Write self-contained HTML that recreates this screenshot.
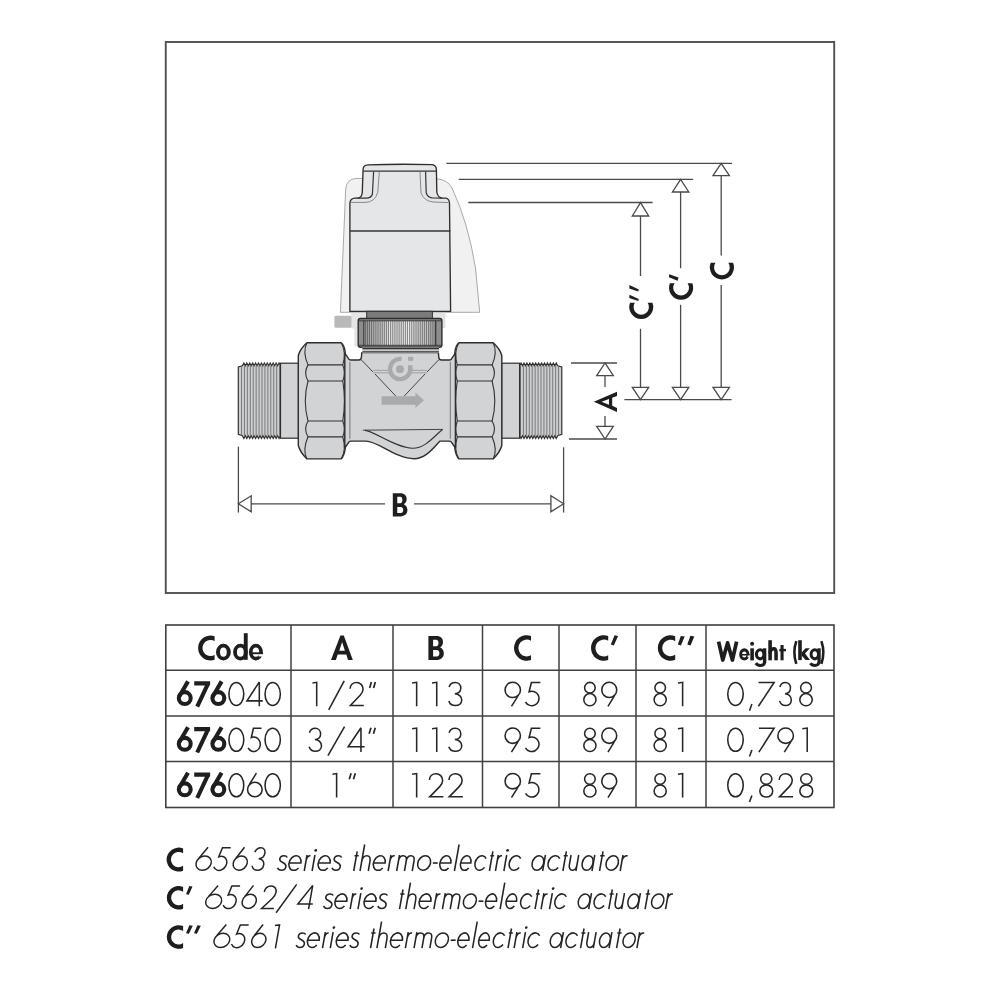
<!DOCTYPE html>
<html><head><meta charset="utf-8"><style>
html,body{margin:0;padding:0;background:#fff;}
svg{display:block;}
text{font-family:"Liberation Sans",sans-serif;}
.ve *{vector-effect:non-scaling-stroke;}
body{position:relative;width:1000px;height:1000px;overflow:hidden;}
.txt{position:absolute;left:0;top:0;width:1000px;height:1000px;color:transparent;font-family:"Liberation Sans",sans-serif;font-size:24px;pointer-events:none;}
.txt span,.txt table,.txt p{position:absolute;margin:0;}
.txt table{border-collapse:collapse;width:668px;height:182px;}
.txt th,.txt td{padding:0;text-align:center;font-weight:normal;}
</style></head><body>
<svg width="1000" height="1000" viewBox="0 0 1000 1000">
<rect width="1000" height="1000" fill="#fff"/>
<g>
<rect x="165.75" y="42" width="668.45" height="551" fill="none" stroke="#505050" stroke-width="1.9"/>
<path d="M340.4,312.3 L344.6,215 L345.7,189 Q346.5,179 356,178.4 L437,178.8 Q448,180 452,188 Q468,222 475.5,268 L479.7,312.3 Z" fill="#f1f1f1" stroke="#a9a9a9" stroke-width="1"/>
<path d="M351,312.8 H367 V328.4 H357.8 V346.4 H354.2 V328.4 H351 Z" fill="#e6e6e6"/>
<rect x="432" y="312.7" width="13.4" height="15.3" fill="#e2e2e2"/>
<rect x="334.4" y="315.8" width="17" height="12" rx="1.5" fill="#b9b9b9"/>
<path d="M349.9,311.3 L349.9,203 Q350.3,198.4 355,198.2 L359,198 Q362.2,196.5 362.3,192 L363.1,169 Q363.5,165 368,164.8 Q400,163.8 432,164.6 Q436.2,165.2 436.4,169.5 L436.8,192 Q437.5,197 441.5,198 L446,198.2 Q449.4,199 449.5,203.5 L450.6,311.3 Z" fill="#e5e6e8" stroke="#2e2e2e" stroke-width="1.35"/>
<line x1="363.2" y1="171.1" x2="436.4" y2="171.1" stroke="#333" stroke-width="1.3"/>
<line x1="349.9" y1="231.1" x2="450.3" y2="231.1" stroke="#333" stroke-width="1.5"/>
<path d="M373.6,171.8 L372.4,194 Q371.5,198.1 366,198.1 L358,198.1" fill="none" stroke="#333" stroke-width="1.2"/>
<path d="M379.3,171.8 L377.8,192.2 Q375,202.4 365,202.4 L351,202.4" fill="none" stroke="#888" stroke-width="1"/>
<path d="M425.6,171.8 L426.2,193 Q428,198 433,198 L442,198.1" fill="none" stroke="#333" stroke-width="1.2"/>
<path d="M420,171.8 L421,193 Q424,201 433,202 L448.6,202.6" fill="none" stroke="#888" stroke-width="1"/>
<rect x="366.7" y="311.3" width="65.7" height="7.2" fill="#7b7b7b" stroke="#333" stroke-width="1"/>
<rect x="358.2" y="318.5" width="83.7" height="28.8" rx="2.2" fill="#8d8d8d" stroke="#2e2e2e" stroke-width="1.4"/>
<rect x="364.30" y="321" width="1.0" height="24.4" fill="rgb(150,150,150)"/><rect x="365.30" y="321" width="0.9" height="24.4" fill="rgb(95,95,95)"/><rect x="366.20" y="321" width="1.0" height="24.4" fill="rgb(157,157,157)"/><rect x="367.20" y="321" width="0.9" height="24.4" fill="rgb(98,98,98)"/><rect x="368.10" y="321" width="1.0" height="24.4" fill="rgb(164,164,164)"/><rect x="369.10" y="321" width="0.9" height="24.4" fill="rgb(101,101,101)"/><rect x="370.00" y="321" width="1.0" height="24.4" fill="rgb(171,171,171)"/><rect x="371.00" y="321" width="0.9" height="24.4" fill="rgb(104,104,104)"/><rect x="371.90" y="321" width="1.0" height="24.4" fill="rgb(178,178,178)"/><rect x="372.90" y="321" width="0.9" height="24.4" fill="rgb(107,107,107)"/><rect x="373.80" y="321" width="1.0" height="24.4" fill="rgb(184,184,184)"/><rect x="374.80" y="321" width="0.9" height="24.4" fill="rgb(110,110,110)"/><rect x="375.70" y="321" width="1.0" height="24.4" fill="rgb(191,191,191)"/><rect x="376.70" y="321" width="0.9" height="24.4" fill="rgb(113,113,113)"/><rect x="377.60" y="321" width="1.0" height="24.4" fill="rgb(197,197,197)"/><rect x="378.60" y="321" width="0.9" height="24.4" fill="rgb(116,116,116)"/><rect x="379.50" y="321" width="1.0" height="24.4" fill="rgb(203,203,203)"/><rect x="380.50" y="321" width="0.9" height="24.4" fill="rgb(118,118,118)"/><rect x="381.40" y="321" width="1.0" height="24.4" fill="rgb(208,208,208)"/><rect x="382.40" y="321" width="0.9" height="24.4" fill="rgb(121,121,121)"/><rect x="383.30" y="321" width="1.0" height="24.4" fill="rgb(214,214,214)"/><rect x="384.30" y="321" width="0.9" height="24.4" fill="rgb(123,123,123)"/><rect x="385.20" y="321" width="1.0" height="24.4" fill="rgb(218,218,218)"/><rect x="386.20" y="321" width="0.9" height="24.4" fill="rgb(125,125,125)"/><rect x="387.10" y="321" width="1.0" height="24.4" fill="rgb(223,223,223)"/><rect x="388.10" y="321" width="0.9" height="24.4" fill="rgb(127,127,127)"/><rect x="389.00" y="321" width="1.0" height="24.4" fill="rgb(227,227,227)"/><rect x="390.00" y="321" width="0.9" height="24.4" fill="rgb(129,129,129)"/><rect x="390.90" y="321" width="1.0" height="24.4" fill="rgb(230,230,230)"/><rect x="391.90" y="321" width="0.9" height="24.4" fill="rgb(130,130,130)"/><rect x="392.80" y="321" width="1.0" height="24.4" fill="rgb(233,233,233)"/><rect x="393.80" y="321" width="0.9" height="24.4" fill="rgb(132,132,132)"/><rect x="394.70" y="321" width="1.0" height="24.4" fill="rgb(235,235,235)"/><rect x="395.70" y="321" width="0.9" height="24.4" fill="rgb(133,133,133)"/><rect x="396.60" y="321" width="1.0" height="24.4" fill="rgb(237,237,237)"/><rect x="397.60" y="321" width="0.9" height="24.4" fill="rgb(133,133,133)"/><rect x="398.50" y="321" width="1.0" height="24.4" fill="rgb(239,239,239)"/><rect x="399.50" y="321" width="0.9" height="24.4" fill="rgb(134,134,134)"/><rect x="400.40" y="321" width="1.0" height="24.4" fill="rgb(239,239,239)"/><rect x="401.40" y="321" width="0.9" height="24.4" fill="rgb(134,134,134)"/><rect x="402.30" y="321" width="1.0" height="24.4" fill="rgb(239,239,239)"/><rect x="403.30" y="321" width="0.9" height="24.4" fill="rgb(134,134,134)"/><rect x="404.20" y="321" width="1.0" height="24.4" fill="rgb(239,239,239)"/><rect x="405.20" y="321" width="0.9" height="24.4" fill="rgb(134,134,134)"/><rect x="406.10" y="321" width="1.0" height="24.4" fill="rgb(238,238,238)"/><rect x="407.10" y="321" width="0.9" height="24.4" fill="rgb(134,134,134)"/><rect x="408.00" y="321" width="1.0" height="24.4" fill="rgb(237,237,237)"/><rect x="409.00" y="321" width="0.9" height="24.4" fill="rgb(133,133,133)"/><rect x="409.90" y="321" width="1.0" height="24.4" fill="rgb(235,235,235)"/><rect x="410.90" y="321" width="0.9" height="24.4" fill="rgb(132,132,132)"/><rect x="411.80" y="321" width="1.0" height="24.4" fill="rgb(232,232,232)"/><rect x="412.80" y="321" width="0.9" height="24.4" fill="rgb(131,131,131)"/><rect x="413.70" y="321" width="1.0" height="24.4" fill="rgb(229,229,229)"/><rect x="414.70" y="321" width="0.9" height="24.4" fill="rgb(130,130,130)"/><rect x="415.60" y="321" width="1.0" height="24.4" fill="rgb(225,225,225)"/><rect x="416.60" y="321" width="0.9" height="24.4" fill="rgb(128,128,128)"/><rect x="417.50" y="321" width="1.0" height="24.4" fill="rgb(221,221,221)"/><rect x="418.50" y="321" width="0.9" height="24.4" fill="rgb(126,126,126)"/><rect x="419.40" y="321" width="1.0" height="24.4" fill="rgb(217,217,217)"/><rect x="420.40" y="321" width="0.9" height="24.4" fill="rgb(124,124,124)"/><rect x="421.30" y="321" width="1.0" height="24.4" fill="rgb(212,212,212)"/><rect x="422.30" y="321" width="0.9" height="24.4" fill="rgb(122,122,122)"/><rect x="423.20" y="321" width="1.0" height="24.4" fill="rgb(207,207,207)"/><rect x="424.20" y="321" width="0.9" height="24.4" fill="rgb(120,120,120)"/><rect x="425.10" y="321" width="1.0" height="24.4" fill="rgb(201,201,201)"/><rect x="426.10" y="321" width="0.9" height="24.4" fill="rgb(117,117,117)"/><rect x="427.00" y="321" width="1.0" height="24.4" fill="rgb(195,195,195)"/><rect x="428.00" y="321" width="0.9" height="24.4" fill="rgb(115,115,115)"/><rect x="428.90" y="321" width="1.0" height="24.4" fill="rgb(189,189,189)"/><rect x="429.90" y="321" width="0.9" height="24.4" fill="rgb(112,112,112)"/><rect x="430.80" y="321" width="1.0" height="24.4" fill="rgb(182,182,182)"/><rect x="431.80" y="321" width="0.9" height="24.4" fill="rgb(109,109,109)"/><rect x="432.70" y="321" width="1.0" height="24.4" fill="rgb(175,175,175)"/><rect x="433.70" y="321" width="0.9" height="24.4" fill="rgb(106,106,106)"/><rect x="434.60" y="321" width="1.0" height="24.4" fill="rgb(168,168,168)"/><rect x="435.60" y="321" width="0.9" height="24.4" fill="rgb(103,103,103)"/>
<line x1="363.8" y1="320.5" x2="363.8" y2="345.5" stroke="#333" stroke-width="1"/>
<line x1="435.6" y1="320.5" x2="435.6" y2="345.5" stroke="#333" stroke-width="1"/>
<line x1="359" y1="320.8" x2="441" y2="320.8" stroke="#333" stroke-width="0.9"/>
<line x1="359" y1="345.3" x2="441" y2="345.3" stroke="#333" stroke-width="0.9"/>
<polygon points="280.50,365.70 280.50,365.70 279.04,363.00 277.57,365.70 276.11,363.00 274.64,365.70 273.18,363.00 271.71,365.70 270.25,363.00 268.78,365.70 267.31,363.00 265.85,365.70 264.38,363.00 262.92,365.70 261.45,363.00 259.99,365.70 258.52,363.00 257.06,365.70 255.59,363.00 254.13,365.70 252.66,363.00 251.20,365.70 249.74,363.00 248.27,365.70 246.81,363.00 245.34,365.70 243.88,363.00 242.41,365.70 238.30,367.00 238.30,434.40 242.41,435.70 243.88,438.40 245.34,435.70 246.81,438.40 248.27,435.70 249.74,438.40 251.20,435.70 252.66,438.40 254.13,435.70 255.59,438.40 257.06,435.70 258.52,438.40 259.99,435.70 261.45,438.40 262.92,435.70 264.38,438.40 265.85,435.70 267.31,438.40 268.78,435.70 270.25,438.40 271.71,435.70 273.18,438.40 274.64,435.70 276.11,438.40 277.57,435.70 279.04,438.40 280.50,435.70 280.50,435.70" fill="#cdced0" stroke="#333" stroke-width="1.2" stroke-linejoin="miter"/><line x1="279.60" y1="365.7" x2="279.60" y2="435.7" stroke="#6a6a6a" stroke-width="0.85"/><line x1="276.67" y1="365.7" x2="276.67" y2="435.7" stroke="#6a6a6a" stroke-width="0.85"/><line x1="273.74" y1="365.7" x2="273.74" y2="435.7" stroke="#6a6a6a" stroke-width="0.85"/><line x1="270.81" y1="365.7" x2="270.81" y2="435.7" stroke="#6a6a6a" stroke-width="0.85"/><line x1="267.88" y1="365.7" x2="267.88" y2="435.7" stroke="#6a6a6a" stroke-width="0.85"/><line x1="264.95" y1="365.7" x2="264.95" y2="435.7" stroke="#6a6a6a" stroke-width="0.85"/><line x1="262.02" y1="365.7" x2="262.02" y2="435.7" stroke="#6a6a6a" stroke-width="0.85"/><line x1="259.09" y1="365.7" x2="259.09" y2="435.7" stroke="#6a6a6a" stroke-width="0.85"/><line x1="256.16" y1="365.7" x2="256.16" y2="435.7" stroke="#6a6a6a" stroke-width="0.85"/><line x1="253.23" y1="365.7" x2="253.23" y2="435.7" stroke="#6a6a6a" stroke-width="0.85"/><line x1="250.30" y1="365.7" x2="250.30" y2="435.7" stroke="#6a6a6a" stroke-width="0.85"/><line x1="247.37" y1="365.7" x2="247.37" y2="435.7" stroke="#6a6a6a" stroke-width="0.85"/><line x1="244.44" y1="365.7" x2="244.44" y2="435.7" stroke="#6a6a6a" stroke-width="0.85"/><line x1="241.51" y1="365.7" x2="241.51" y2="435.7" stroke="#6a6a6a" stroke-width="0.85"/><rect x="280.5" y="363.2" width="18" height="75" fill="#d2d3d5" stroke="#2e2e2e" stroke-width="1.2"/><path d="M306.9,342.8 L341.2,342.8 Q344.2,345 345.2,352 L345.2,449 Q344.2,456 341.2,458.9 L306.9,458.9 Q300,452 298.3,445.5 L298.3,355.5 Q300,349 306.9,342.8 Z" fill="#d2d3d5" stroke="#2e2e2e" stroke-width="1.4"/><line x1="308" y1="364.9" x2="343" y2="364.9" stroke="#333" stroke-width="1.2"/><line x1="308" y1="381" x2="343" y2="381" stroke="#333" stroke-width="1.2"/><line x1="308" y1="421" x2="343" y2="421" stroke="#333" stroke-width="1.2"/><line x1="308" y1="436.8" x2="343" y2="436.8" stroke="#333" stroke-width="1.2"/><path d="M306.9,342.8 Q302.3,352 308,364.9 Q303.3,373 308,381 Q302.6,401 308,421 Q303.3,429 308,436.8 Q302.3,450 306.9,458.9" fill="none" stroke="#333" stroke-width="1.1"/><path d="M341.2,342.8 Q346.6,352 342.8,364.9 Q345.8,373 342.8,381 Q346,401 342.8,421 Q345.8,429 342.8,436.8 Q346.6,450 341.2,458.9" fill="none" stroke="#333" stroke-width="1.1"/>
<g transform="translate(800.1,0) scale(-1,1)"><polygon points="280.50,365.70 280.50,365.70 279.04,363.00 277.57,365.70 276.11,363.00 274.64,365.70 273.18,363.00 271.71,365.70 270.25,363.00 268.78,365.70 267.31,363.00 265.85,365.70 264.38,363.00 262.92,365.70 261.45,363.00 259.99,365.70 258.52,363.00 257.06,365.70 255.59,363.00 254.13,365.70 252.66,363.00 251.20,365.70 249.74,363.00 248.27,365.70 246.81,363.00 245.34,365.70 243.88,363.00 242.41,365.70 238.30,367.00 238.30,434.40 242.41,435.70 243.88,438.40 245.34,435.70 246.81,438.40 248.27,435.70 249.74,438.40 251.20,435.70 252.66,438.40 254.13,435.70 255.59,438.40 257.06,435.70 258.52,438.40 259.99,435.70 261.45,438.40 262.92,435.70 264.38,438.40 265.85,435.70 267.31,438.40 268.78,435.70 270.25,438.40 271.71,435.70 273.18,438.40 274.64,435.70 276.11,438.40 277.57,435.70 279.04,438.40 280.50,435.70 280.50,435.70" fill="#cdced0" stroke="#333" stroke-width="1.2" stroke-linejoin="miter"/><line x1="279.60" y1="365.7" x2="279.60" y2="435.7" stroke="#6a6a6a" stroke-width="0.85"/><line x1="276.67" y1="365.7" x2="276.67" y2="435.7" stroke="#6a6a6a" stroke-width="0.85"/><line x1="273.74" y1="365.7" x2="273.74" y2="435.7" stroke="#6a6a6a" stroke-width="0.85"/><line x1="270.81" y1="365.7" x2="270.81" y2="435.7" stroke="#6a6a6a" stroke-width="0.85"/><line x1="267.88" y1="365.7" x2="267.88" y2="435.7" stroke="#6a6a6a" stroke-width="0.85"/><line x1="264.95" y1="365.7" x2="264.95" y2="435.7" stroke="#6a6a6a" stroke-width="0.85"/><line x1="262.02" y1="365.7" x2="262.02" y2="435.7" stroke="#6a6a6a" stroke-width="0.85"/><line x1="259.09" y1="365.7" x2="259.09" y2="435.7" stroke="#6a6a6a" stroke-width="0.85"/><line x1="256.16" y1="365.7" x2="256.16" y2="435.7" stroke="#6a6a6a" stroke-width="0.85"/><line x1="253.23" y1="365.7" x2="253.23" y2="435.7" stroke="#6a6a6a" stroke-width="0.85"/><line x1="250.30" y1="365.7" x2="250.30" y2="435.7" stroke="#6a6a6a" stroke-width="0.85"/><line x1="247.37" y1="365.7" x2="247.37" y2="435.7" stroke="#6a6a6a" stroke-width="0.85"/><line x1="244.44" y1="365.7" x2="244.44" y2="435.7" stroke="#6a6a6a" stroke-width="0.85"/><line x1="241.51" y1="365.7" x2="241.51" y2="435.7" stroke="#6a6a6a" stroke-width="0.85"/><rect x="280.5" y="363.2" width="18" height="75" fill="#d2d3d5" stroke="#2e2e2e" stroke-width="1.2"/><path d="M306.9,342.8 L341.2,342.8 Q344.2,345 345.2,352 L345.2,449 Q344.2,456 341.2,458.9 L306.9,458.9 Q300,452 298.3,445.5 L298.3,355.5 Q300,349 306.9,342.8 Z" fill="#d2d3d5" stroke="#2e2e2e" stroke-width="1.4"/><line x1="308" y1="364.9" x2="343" y2="364.9" stroke="#333" stroke-width="1.2"/><line x1="308" y1="381" x2="343" y2="381" stroke="#333" stroke-width="1.2"/><line x1="308" y1="421" x2="343" y2="421" stroke="#333" stroke-width="1.2"/><line x1="308" y1="436.8" x2="343" y2="436.8" stroke="#333" stroke-width="1.2"/><path d="M306.9,342.8 Q302.3,352 308,364.9 Q303.3,373 308,381 Q302.6,401 308,421 Q303.3,429 308,436.8 Q302.3,450 306.9,458.9" fill="none" stroke="#333" stroke-width="1.1"/><path d="M341.2,342.8 Q346.6,352 342.8,364.9 Q345.8,373 342.8,381 Q346,401 342.8,421 Q345.8,429 342.8,436.8 Q346.6,450 341.2,458.9" fill="none" stroke="#333" stroke-width="1.1"/></g>
<path d="M344.8,353.2 L348.9,359.2 Q349.6,360 351,360 L358.8,360 Q361.2,360 361.4,357.4 L361.8,352.6 L438.4,352.6 L438.8,357.4 Q439,360 441.4,360 L449.2,360 Q450.6,360 451.3,359.2 L455.4,353.2 L455.4,448 L451.2,441.9 Q450.6,441.1 449.2,441.1 L440.1,441.1 C434,447 426,458.7 414.1,458.7 C396,458.7 378,441.1 366,441.1 L351,441.1 Q349.6,441.1 349,441.9 L344.8,448 Z" fill="#d2d3d5" stroke="#2e2e2e" stroke-width="1.4" stroke-linejoin="round"/>
<line x1="349.9" y1="362" x2="349.9" y2="438.8" stroke="#6a6a6a" stroke-width="0.9"/>
<line x1="450.3" y1="362" x2="450.3" y2="438.8" stroke="#6a6a6a" stroke-width="0.9"/>
<rect x="362.2" y="347.5" width="77" height="5.2" fill="#c9cacc"/>
<line x1="362.5" y1="348.6" x2="439" y2="348.6" stroke="#333" stroke-width="1.1"/>
<line x1="362.5" y1="351.8" x2="439" y2="351.8" stroke="#333" stroke-width="1.1"/>
<path d="M362.8,430.2 L442.7,429.4" fill="none" stroke="#444" stroke-width="1"/>
<path d="M365,430.4 C374,431 396,448.3 412.8,448.3 C426,448.3 436,434 442.7,429.5" fill="none" stroke="#333" stroke-width="1.1"/>
<path d="M361.5,360 L373,372 M375,374 L396,396.3 M438.5,360 L427,372 M425,374 L404,396.3" fill="none" stroke="#444" stroke-width="1"/>
<line x1="373.5" y1="370.4" x2="389" y2="370.4" stroke="#a9aaac" stroke-width="1.3"/>
<line x1="373.5" y1="372.8" x2="389" y2="372.8" stroke="#a9aaac" stroke-width="1.3"/>
<line x1="411" y1="370.4" x2="427" y2="370.4" stroke="#a9aaac" stroke-width="1.3"/>
<line x1="411" y1="372.8" x2="427" y2="372.8" stroke="#a9aaac" stroke-width="1.3"/>
<path d="M401.91,356.82 A12.3,12.3 0 1 0 412.38,367.29 L408.12,367.89 A8,8 0 1 1 401.31,361.08 Z" fill="#a9aaac"/>
<circle cx="400" cy="369.2" r="3.9" fill="#a9aaac"/>
<rect x="408" y="356.8" width="5.2" height="4" fill="#a9aaac"/>
<rect x="408" y="365.2" width="4.4" height="6" fill="#a9aaac"/>
<path d="M381.6,396.3 L415.4,396.3 L415.4,392.4 L423.9,400.3 L415.4,408 L415.4,404.7 L381.6,404.7 Z" fill="#a9aaac"/>
<line x1="446.4" y1="163.4" x2="732" y2="163.4" stroke="#4a4a4a" stroke-width="1.3"/>
<line x1="458.7" y1="179.4" x2="693.2" y2="179.4" stroke="#4a4a4a" stroke-width="1.3"/>
<line x1="468.3" y1="202.5" x2="652.6" y2="202.5" stroke="#4a4a4a" stroke-width="1.3"/>
<line x1="624.4" y1="399.6" x2="731.6" y2="399.6" stroke="#4a4a4a" stroke-width="1.3"/>
<line x1="721.2" y1="175.6" x2="721.2" y2="255.6" stroke="#4a4a4a" stroke-width="1.3"/>
<line x1="721.2" y1="285" x2="721.2" y2="387.4" stroke="#4a4a4a" stroke-width="1.3"/>
<line x1="680.6" y1="192" x2="680.6" y2="268.2" stroke="#4a4a4a" stroke-width="1.3"/>
<line x1="680.6" y1="304.8" x2="680.6" y2="387.4" stroke="#4a4a4a" stroke-width="1.3"/>
<line x1="640.5" y1="216" x2="640.5" y2="276" stroke="#4a4a4a" stroke-width="1.3"/>
<line x1="640.5" y1="328.8" x2="640.5" y2="387.4" stroke="#4a4a4a" stroke-width="1.3"/>
<polygon points="721.2,163.4 713,175.6 729.4,175.6" fill="#fff" stroke="#4a4a4a" stroke-width="1.3" stroke-linejoin="miter"/>
<polygon points="680.6,179.4 672.4,192 688.8,192" fill="#fff" stroke="#4a4a4a" stroke-width="1.3" stroke-linejoin="miter"/>
<polygon points="640.5,202.6 632.3,216 648.7,216" fill="#fff" stroke="#4a4a4a" stroke-width="1.3" stroke-linejoin="miter"/>
<polygon points="640.5,399.6 632.3,387.4 648.7,387.4" fill="#fff" stroke="#4a4a4a" stroke-width="1.3" stroke-linejoin="miter"/>
<polygon points="680.6,399.6 672.4,387.4 688.8000000000001,387.4" fill="#fff" stroke="#4a4a4a" stroke-width="1.3" stroke-linejoin="miter"/>
<polygon points="721.2,399.6 713.0,387.4 729.4000000000001,387.4" fill="#fff" stroke="#4a4a4a" stroke-width="1.3" stroke-linejoin="miter"/>
<line x1="571" y1="363" x2="617" y2="363" stroke="#4a4a4a" stroke-width="1.3"/>
<line x1="569" y1="439" x2="617" y2="439" stroke="#4a4a4a" stroke-width="1.3"/>
<line x1="605" y1="375.6" x2="605" y2="387" stroke="#4a4a4a" stroke-width="1.3"/>
<line x1="605" y1="416" x2="605" y2="426.4" stroke="#4a4a4a" stroke-width="1.3"/>
<polygon points="605,363 596.7,375.6 613.3,375.6" fill="#fff" stroke="#4a4a4a" stroke-width="1.3" stroke-linejoin="miter"/>
<polygon points="605,439 596.7,426.4 613.3,426.4" fill="#fff" stroke="#4a4a4a" stroke-width="1.3" stroke-linejoin="miter"/>
<line x1="238.4" y1="446.6" x2="238.4" y2="512.6" stroke="#4a4a4a" stroke-width="1.3"/>
<line x1="563.6" y1="447.3" x2="563.6" y2="512.5" stroke="#4a4a4a" stroke-width="1.3"/>
<line x1="251.2" y1="503.8" x2="385" y2="503.8" stroke="#4a4a4a" stroke-width="1.3"/>
<line x1="414" y1="503.8" x2="550.9" y2="503.8" stroke="#4a4a4a" stroke-width="1.3"/>
<polygon points="238.4,503.8 251.2,495.8 251.2,511.8" fill="#fff" stroke="#4a4a4a" stroke-width="1.3" stroke-linejoin="miter"/>
<polygon points="563.6,503.8 550.9,495.8 550.9,511.8" fill="#fff" stroke="#4a4a4a" stroke-width="1.3" stroke-linejoin="miter"/>
<path d="M710.71,262.8 A12.1,12.1 0 1 0 733.09,262.8 L728.32,262.8 A7.9,7.9 0 1 1 715.48,262.8 Z" fill="#1e1e1e"/>
<path d="M669.87,283.2 A12.1,12.1 0 1 0 692.33,283.2 L687.59,283.2 A7.9,7.9 0 1 1 674.61,283.2 Z" fill="#1e1e1e"/>
<path d="M630.03,302.75 A12.0,12.0 0 1 0 652.47,302.75 L647.67,302.75 A7.7,7.7 0 1 1 634.83,302.75 Z" fill="#1e1e1e"/>
<polygon points="669.2,274.3 678.5,277.6 677.6,280.8 669,277.3" fill="#1e1e1e"/>
<polygon points="629.5,285 638.75,289.5 638.25,291.6 629.25,288.5" fill="#1e1e1e"/>
<polygon points="629.5,294.75 638.75,299 638.25,301.1 629.25,298" fill="#1e1e1e"/>
<path d="M593.8,401.8 L617,391.8 L617,395.9 L612.2,397.8 L612.2,405.8 L617,407.9 L617,412.1 Z M601.6,401.8 L609,398.9 L609,404.7 Z" fill="#1e1e1e" fill-rule="evenodd"/>
<path transform="translate(392.8,493.2) scale(0.9481,0.9667)" d="M0,0 H7.9 C12.5,0 14.6,2.5 14.6,6 C14.6,8.6 13.5,10.4 11.6,11.4 C14.1,12.4 15.4,14.7 15.4,17.5 C15.4,21.6 12.4,24 8,24 H0 Z M4.7,3.8 H7.8 C9.3,3.8 10.1,5.1 10.1,7.1 C10.1,9.1 9.3,10.3 7.8,10.3 H4.7 Z M4.7,14.2 H8.4 C10.1,14.2 11,15.6 11,17.3 C11,19.1 10.1,20.5 8.4,20.5 H4.7 Z" fill="#1e1e1e" fill-rule="evenodd"/>
<rect x="165.8" y="625" width="668.2" height="182.5" fill="none" stroke="#404040" stroke-width="1.6"/>
<line x1="165.5" y1="670.3" x2="834" y2="670.3" stroke="#404040" stroke-width="1.5"/>
<line x1="165.5" y1="716" x2="834" y2="716" stroke="#404040" stroke-width="1.5"/>
<line x1="165.5" y1="761.6" x2="834" y2="761.6" stroke="#404040" stroke-width="1.5"/>
<line x1="291" y1="625" x2="291" y2="807.5" stroke="#404040" stroke-width="1.5"/>
<line x1="393" y1="625" x2="393" y2="807.5" stroke="#404040" stroke-width="1.5"/>
<line x1="482.5" y1="625" x2="482.5" y2="807.5" stroke="#404040" stroke-width="1.5"/>
<line x1="559" y1="625" x2="559" y2="807.5" stroke="#404040" stroke-width="1.5"/>
<line x1="636" y1="625" x2="636" y2="807.5" stroke="#404040" stroke-width="1.5"/>
<line x1="706" y1="625" x2="706" y2="807.5" stroke="#404040" stroke-width="1.5"/>
<path d="M340.4,635.4 L343.8,635.4 L352.8,660 L348,660 L346.4,654.4 L337.7,654.4 L335.9,660 L331,660 Z M342.1,642.0 L339.3,650.8 L344.9,650.8 Z" fill="#1e1e1e" fill-rule="evenodd"/>
<path d="M428.4,635.9 H436.3 C440.9,635.9 443,638.4 443,641.9 C443,644.5 441.9,646.3 440,647.3 C442.5,648.3 443.8,650.6 443.8,653.4 C443.8,657.5 440.8,659.9 436.4,659.9 H428.4 Z M433.1,639.7 H436.2 C437.7,639.7 438.5,641 438.5,643 C438.5,645 437.7,646.2 436.2,646.2 H433.1 Z M433.1,650.1 H436.8 C438.5,650.1 439.4,651.5 439.4,653.2 C439.4,655 438.5,656.4 436.8,656.4 H433.1 Z" fill="#1e1e1e" fill-rule="evenodd"/>
<path d="M214.6,636.16 A12.5,12.5 0 1 0 214.6,659.84 L214.6,655.04 A8.1,8.1 0 1 1 214.6,640.96 Z" fill="#1e1e1e"/>
<path d="M216.0,652.2 a7.4,8.35 0 1 0 14.8,0 a7.4,8.35 0 1 0 -14.8,0 Z M220.0,652.2 a3.4,4.6 0 1 0 6.8,0 a3.4,4.6 0 1 0 -6.8,0 Z" fill="#1e1e1e" fill-rule="evenodd"/>
<path d="M233.1,652.2 a7.3,8.35 0 1 0 14.6,0 a7.3,8.35 0 1 0 -14.6,0 Z M236.9,652.2 a3.5,4.6 0 1 0 7.0,0 a3.5,4.6 0 1 0 -7.0,0 Z" fill="#1e1e1e" fill-rule="evenodd"/>
<rect x="243.8" y="633.2" width="3.9" height="26.6" fill="#1e1e1e"/>
<path d="M248.9,652.2 a7.0,8.35 0 1 0 14.0,0 a7.0,8.35 0 1 0 -14.0,0 Z M252.6,652.2 a3.3,4.6 0 1 0 6.6,0 a3.3,4.6 0 1 0 -6.6,0 Z" fill="#1e1e1e" fill-rule="evenodd"/>
<rect x="252" y="652.3" width="11" height="1.9" fill="#1e1e1e"/>
<rect x="258.6" y="654.2" width="5.5" height="2.3" fill="#fff"/>
<path d="M531.0,635.91 A12.8,12.8 0 1 0 531.0,660.09 L531.0,655.27 A8.4,8.4 0 1 1 531.0,640.73 Z" fill="#1e1e1e"/>
<path d="M608.2,635.98 A12.8,12.8 0 1 0 608.2,660.02 L608.2,655.16 A8.4,8.4 0 1 1 608.2,640.84 Z" fill="#1e1e1e"/>
<polygon points="614.6,635.3 618.1,636.1 613.8,645.4 610.8,644.5" fill="#1e1e1e"/>
<path d="M675.2,636.20 A12.7,12.7 0 1 0 675.2,659.80 L675.2,654.84 A8.3,8.3 0 1 1 675.2,641.16 Z" fill="#1e1e1e"/>
<polygon points="680.8,636.0 684.7,636.6 680.9,645.4 677.8,644.6" fill="#1e1e1e"/>
<polygon points="690.4,635.8 694.3,636.5 690.5,645.4 687.3,644.6" fill="#1e1e1e"/>
<path d="M718.6,641.7 L722.8,660.0 L727.6,642.9 L732.4,660.0 L736.6,641.7" fill="none" stroke="#1e1e1e" stroke-width="3.7" stroke-linejoin="round"/><path d="M739.1999999999999,654.45 a5.1,6.15 0 1 0 10.2,0 a5.1,6.15 0 1 0 -10.2,0 Z M742.0999999999999,654.45 a2.2,3.0 0 1 0 4.4,0 a2.2,3.0 0 1 0 -4.4,0 Z" fill="#1e1e1e" fill-rule="evenodd"/><rect x="740.5" y="654.0" width="9.2" height="1.5" fill="#1e1e1e"/><rect x="747.6" y="655.5" width="3" height="1.9" fill="#fff"/><rect x="750.3" y="648.3" width="3.6" height="12.1" fill="#1e1e1e"/><circle cx="752.1" cy="643.7" r="2.0" fill="#1e1e1e"/><path d="M754.9000000000001,654.3 a5.3,6.1 0 1 0 10.6,0 a5.3,6.1 0 1 0 -10.6,0 Z M758.0,654.3 a2.2,3.0 0 1 0 4.4,0 a2.2,3.0 0 1 0 -4.4,0 Z" fill="#1e1e1e" fill-rule="evenodd"/><rect x="762.9" y="648.3" width="3.4" height="14.4" fill="#1e1e1e"/><path d="M764.6,662 C764.6,664.3 762.6,665.4 760.4,665.4 C758.4,665.4 756.8,664.7 755.8,663.2" fill="none" stroke="#1e1e1e" stroke-width="3.0"/><rect x="768.3" y="640.2" width="3.6" height="20.1" fill="#1e1e1e"/><rect x="774.3" y="652.3" width="3.5" height="8.0" fill="#1e1e1e"/><path d="M770.1,653.5 C770.1,650 771.8,648.7 773.8,648.7 C775.8,648.7 776.05,650.5 776.05,652.8" fill="none" stroke="#1e1e1e" stroke-width="3.4"/><rect x="780.5" y="645" width="3.1" height="15.3" fill="#1e1e1e"/><rect x="779.3" y="648.9" width="6.7" height="2.4" fill="#1e1e1e"/><path d="M796.3,641.2 Q792.4,652.5 796.3,663.9" fill="none" stroke="#1e1e1e" stroke-width="2.6"/><rect x="798.2" y="640.2" width="3.6" height="19.9" fill="#1e1e1e"/><polygon points="801.6,652.6 805.6,648.3 809.8,648.3 805.0,653.5 810.0,660.1 805.6,660.1 801.6,655.4" fill="#1e1e1e"/><path d="M809.5999999999999,654.3 a5.2,6.1 0 1 0 10.4,0 a5.2,6.1 0 1 0 -10.4,0 Z M812.5999999999999,654.3 a2.2,3.0 0 1 0 4.4,0 a2.2,3.0 0 1 0 -4.4,0 Z" fill="#1e1e1e" fill-rule="evenodd"/><rect x="817.4" y="648.3" width="3.3" height="14.4" fill="#1e1e1e"/><path d="M819.05,662 C819.05,664.3 817,665.4 814.9,665.4 C812.9,665.4 811.3,664.7 810.4,663.2" fill="none" stroke="#1e1e1e" stroke-width="3.0"/><path d="M821.4,641.2 Q825.3,652.5 821.4,663.9" fill="none" stroke="#1e1e1e" stroke-width="2.6"/>
<g fill="none" stroke="#1e1e1e" stroke-width="4.1" stroke-linecap="butt" stroke-linejoin="miter" class="ve"><g transform="translate(176.8,706.3) scale(1.0000,1)"><circle cx="7.95" cy="-8.25" r="5.95"/><path d="M11.2,-24.9 L2.3,-9.6"/></g><g transform="translate(194.2,706.3) scale(1.0000,1)"><path d="M0,-22.95 H15.9 M14.2,-23.5 L3.0,0.4"/></g><g transform="translate(210.4,706.3) scale(1.0000,1)"><circle cx="7.95" cy="-8.25" r="5.95"/><path d="M11.2,-24.9 L2.3,-9.6"/></g></g>
<g fill="none" stroke="#1e1e1e" stroke-width="4.1" stroke-linecap="butt" stroke-linejoin="miter" class="ve"><g transform="translate(176.8,752.1) scale(1.0000,1)"><circle cx="7.95" cy="-8.25" r="5.95"/><path d="M11.2,-24.9 L2.3,-9.6"/></g><g transform="translate(194.2,752.1) scale(1.0000,1)"><path d="M0,-22.95 H15.9 M14.2,-23.5 L3.0,0.4"/></g><g transform="translate(210.4,752.1) scale(1.0000,1)"><circle cx="7.95" cy="-8.25" r="5.95"/><path d="M11.2,-24.9 L2.3,-9.6"/></g></g>
<g fill="none" stroke="#1e1e1e" stroke-width="4.1" stroke-linecap="butt" stroke-linejoin="miter" class="ve"><g transform="translate(176.8,797.6) scale(1.0000,1)"><circle cx="7.95" cy="-8.25" r="5.95"/><path d="M11.2,-24.9 L2.3,-9.6"/></g><g transform="translate(194.2,797.6) scale(1.0000,1)"><path d="M0,-22.95 H15.9 M14.2,-23.5 L3.0,0.4"/></g><g transform="translate(210.4,797.6) scale(1.0000,1)"><circle cx="7.95" cy="-8.25" r="5.95"/><path d="M11.2,-24.9 L2.3,-9.6"/></g></g>
<g fill="none" stroke="#262626" stroke-width="1.55" stroke-linecap="butt" stroke-linejoin="miter" class="ve"><g transform="translate(228.2,706.3) scale(0.9588,1)"><ellipse cx="8.5" cy="-12.3" rx="7.75" ry="11.55"/></g><g transform="translate(246.2,706.3) scale(1.0000,1)"><path d="M13.1,-24.4 L0.75,-5.4 H16.6 M13.1,-24.4 V0"/></g><g transform="translate(264.3,706.3) scale(0.9882,1)"><ellipse cx="8.5" cy="-12.3" rx="7.75" ry="11.55"/></g><g transform="translate(312.2,706.3) scale(0.9286,1)"><path d="M0.3,-23.4 L4.85,-24.0 V0"/></g><g transform="translate(328.2,706.3) scale(1.0000,1)"><path d="M16.0,-25.4 L0.5,3.6"/></g><g transform="translate(349.4,706.3) scale(0.9796,1)"><path d="M0.75,-17.6 C0.9,-21.5 3.8,-23.85 7.3,-23.85 C11,-23.85 13.95,-21 13.95,-17.2 C13.95,-14.5 12.6,-12.7 11,-11 L1.0,-0.75 H14.7"/></g><g transform="translate(369,706.3) scale(0.9429,1)"><path d="M2.5,-24.4 L0.7,-18.4 M6.7,-24.4 L4.9,-18.4" stroke-width="1.7"/></g><g transform="translate(411.8,706.3) scale(1.0000,1)"><path d="M0.3,-23.4 L4.85,-24.0 V0"/></g><g transform="translate(431.7,706.3) scale(1.0357,1)"><path d="M0.3,-23.4 L4.85,-24.0 V0"/></g><g transform="translate(448.2,706.3) scale(1.0000,1)"><path d="M0.9,-19.3 C1.8,-22.2 4.2,-23.85 7,-23.85 C10.3,-23.85 12.6,-21.3 12.6,-18.2 C12.6,-15 10.3,-12.6 6.6,-12.6 C10.5,-12.6 13.55,-9.7 13.55,-6.3 C13.55,-2.8 10.7,-0.75 7.2,-0.75 C4.2,-0.75 1.6,-2.4 0.6,-5.4"/></g><g transform="translate(504.25,706.3) scale(1.0000,1)"><circle cx="8.5" cy="-16.4" r="7.7"/><path d="M13.6,-10.2 L7.2,0"/></g><g transform="translate(524.5,706.3) scale(1.0000,1)"><path d="M15.9,-23.85 H6.9 L4.6,-14.6 A7.25,7.25 0 1 1 1.0,-4.3"/></g><g transform="translate(583,706.3) scale(1.0000,1)"><circle cx="6.9" cy="-18.6" r="5.3"/><circle cx="6.9" cy="-6.6" r="6.1"/></g><g transform="translate(601,706.3) scale(0.9710,1)"><circle cx="8.5" cy="-16.4" r="7.7"/><path d="M13.6,-10.2 L7.2,0"/></g><g transform="translate(653.3,706.3) scale(0.9964,1)"><circle cx="6.9" cy="-18.6" r="5.3"/><circle cx="6.9" cy="-6.6" r="6.1"/></g><g transform="translate(677.6,706.3) scale(1.0357,1)"><path d="M0.3,-23.4 L4.85,-24.0 V0"/></g><g transform="translate(727,706.3) scale(1.0000,1)"><ellipse cx="8.5" cy="-12.3" rx="7.75" ry="11.55"/></g><g transform="translate(749,706.3) scale(1.0000,1)"><path d="M2.9,-2.2 L0.5,4.4"/></g><g transform="translate(757.5,706.3) scale(1.0000,1)"><path d="M1.0,-23.85 H16.6 L0.9,0"/></g><g transform="translate(779,706.3) scale(0.9091,1)"><path d="M0.9,-19.3 C1.8,-22.2 4.2,-23.85 7,-23.85 C10.3,-23.85 12.6,-21.3 12.6,-18.2 C12.6,-15 10.3,-12.6 6.6,-12.6 C10.5,-12.6 13.55,-9.7 13.55,-6.3 C13.55,-2.8 10.7,-0.75 7.2,-0.75 C4.2,-0.75 1.6,-2.4 0.6,-5.4"/></g><g transform="translate(799,706.3) scale(1.0182,1)"><circle cx="6.9" cy="-18.6" r="5.3"/><circle cx="6.9" cy="-6.6" r="6.1"/></g></g>
<g fill="none" stroke="#262626" stroke-width="1.55" stroke-linecap="butt" stroke-linejoin="miter" class="ve"><g transform="translate(228.2,752.1) scale(0.9588,1)"><ellipse cx="8.5" cy="-12.3" rx="7.75" ry="11.55"/></g><g transform="translate(247.2,752.1) scale(0.9000,1)"><path d="M15.9,-23.85 H6.9 L4.6,-14.6 A7.25,7.25 0 1 1 1.0,-4.3"/></g><g transform="translate(264.3,752.1) scale(0.9882,1)"><ellipse cx="8.5" cy="-12.3" rx="7.75" ry="11.55"/></g><g transform="translate(308.6,752.1) scale(0.9510,1)"><path d="M0.9,-19.3 C1.8,-22.2 4.2,-23.85 7,-23.85 C10.3,-23.85 12.6,-21.3 12.6,-18.2 C12.6,-15 10.3,-12.6 6.6,-12.6 C10.5,-12.6 13.55,-9.7 13.55,-6.3 C13.55,-2.8 10.7,-0.75 7.2,-0.75 C4.2,-0.75 1.6,-2.4 0.6,-5.4"/></g><g transform="translate(327.4,752.1) scale(1.0732,1)"><path d="M16.0,-25.4 L0.5,3.6"/></g><g transform="translate(347.4,752.1) scale(1.0361,1)"><path d="M13.1,-24.4 L0.75,-5.4 H16.6 M13.1,-24.4 V0"/></g><g transform="translate(368.4,752.1) scale(1.0286,1)"><path d="M2.5,-24.4 L0.7,-18.4 M6.7,-24.4 L4.9,-18.4" stroke-width="1.7"/></g><g transform="translate(411.8,752.1) scale(1.0000,1)"><path d="M0.3,-23.4 L4.85,-24.0 V0"/></g><g transform="translate(431.7,752.1) scale(1.0357,1)"><path d="M0.3,-23.4 L4.85,-24.0 V0"/></g><g transform="translate(448.2,752.1) scale(1.0000,1)"><path d="M0.9,-19.3 C1.8,-22.2 4.2,-23.85 7,-23.85 C10.3,-23.85 12.6,-21.3 12.6,-18.2 C12.6,-15 10.3,-12.6 6.6,-12.6 C10.5,-12.6 13.55,-9.7 13.55,-6.3 C13.55,-2.8 10.7,-0.75 7.2,-0.75 C4.2,-0.75 1.6,-2.4 0.6,-5.4"/></g><g transform="translate(504.25,752.1) scale(1.0000,1)"><circle cx="8.5" cy="-16.4" r="7.7"/><path d="M13.6,-10.2 L7.2,0"/></g><g transform="translate(524.5,752.1) scale(1.0000,1)"><path d="M15.9,-23.85 H6.9 L4.6,-14.6 A7.25,7.25 0 1 1 1.0,-4.3"/></g><g transform="translate(583,752.1) scale(1.0000,1)"><circle cx="6.9" cy="-18.6" r="5.3"/><circle cx="6.9" cy="-6.6" r="6.1"/></g><g transform="translate(601,752.1) scale(0.9710,1)"><circle cx="8.5" cy="-16.4" r="7.7"/><path d="M13.6,-10.2 L7.2,0"/></g><g transform="translate(653.3,752.1) scale(0.9964,1)"><circle cx="6.9" cy="-18.6" r="5.3"/><circle cx="6.9" cy="-6.6" r="6.1"/></g><g transform="translate(677.6,752.1) scale(1.0357,1)"><path d="M0.3,-23.4 L4.85,-24.0 V0"/></g><g transform="translate(727,752.1) scale(1.0000,1)"><ellipse cx="8.5" cy="-12.3" rx="7.75" ry="11.55"/></g><g transform="translate(749,752.1) scale(1.0000,1)"><path d="M2.9,-2.2 L0.5,4.4"/></g><g transform="translate(758,752.1) scale(0.9714,1)"><path d="M1.0,-23.85 H16.6 L0.9,0"/></g><g transform="translate(777,752.1) scale(1.0145,1)"><circle cx="8.5" cy="-16.4" r="7.7"/><path d="M13.6,-10.2 L7.2,0"/></g><g transform="translate(802,752.1) scale(1.0714,1)"><path d="M0.3,-23.4 L4.85,-24.0 V0"/></g></g>
<g fill="none" stroke="#262626" stroke-width="1.55" stroke-linecap="butt" stroke-linejoin="miter" class="ve"><g transform="translate(228.2,797.6) scale(0.9588,1)"><ellipse cx="8.5" cy="-12.3" rx="7.75" ry="11.55"/></g><g transform="translate(247.2,797.6) scale(1.0000,1)"><path d="M9.2,-24.4 L2.4,-13.4"/><circle cx="7.65" cy="-8.1" r="7.3"/></g><g transform="translate(264.3,797.6) scale(0.9882,1)"><ellipse cx="8.5" cy="-12.3" rx="7.75" ry="11.55"/></g><g transform="translate(332.2,797.6) scale(0.9107,1)"><path d="M0.3,-23.4 L4.85,-24.0 V0"/></g><g transform="translate(348.6,797.6) scale(1.0000,1)"><path d="M2.5,-24.4 L0.7,-18.4 M6.7,-24.4 L4.9,-18.4" stroke-width="1.7"/></g><g transform="translate(411.8,797.6) scale(1.0000,1)"><path d="M0.3,-23.4 L4.85,-24.0 V0"/></g><g transform="translate(428.7,797.6) scale(1.0000,1)"><path d="M0.75,-17.6 C0.9,-21.5 3.8,-23.85 7.3,-23.85 C11,-23.85 13.95,-21 13.95,-17.2 C13.95,-14.5 12.6,-12.7 11,-11 L1.0,-0.75 H14.7"/></g><g transform="translate(448.2,797.6) scale(1.0000,1)"><path d="M0.75,-17.6 C0.9,-21.5 3.8,-23.85 7.3,-23.85 C11,-23.85 13.95,-21 13.95,-17.2 C13.95,-14.5 12.6,-12.7 11,-11 L1.0,-0.75 H14.7"/></g><g transform="translate(504.25,797.6) scale(1.0000,1)"><circle cx="8.5" cy="-16.4" r="7.7"/><path d="M13.6,-10.2 L7.2,0"/></g><g transform="translate(524.5,797.6) scale(1.0000,1)"><path d="M15.9,-23.85 H6.9 L4.6,-14.6 A7.25,7.25 0 1 1 1.0,-4.3"/></g><g transform="translate(583,797.6) scale(1.0000,1)"><circle cx="6.9" cy="-18.6" r="5.3"/><circle cx="6.9" cy="-6.6" r="6.1"/></g><g transform="translate(601,797.6) scale(0.9710,1)"><circle cx="8.5" cy="-16.4" r="7.7"/><path d="M13.6,-10.2 L7.2,0"/></g><g transform="translate(653.3,797.6) scale(0.9964,1)"><circle cx="6.9" cy="-18.6" r="5.3"/><circle cx="6.9" cy="-6.6" r="6.1"/></g><g transform="translate(677.6,797.6) scale(1.0357,1)"><path d="M0.3,-23.4 L4.85,-24.0 V0"/></g><g transform="translate(727,797.6) scale(1.0000,1)"><ellipse cx="8.5" cy="-12.3" rx="7.75" ry="11.55"/></g><g transform="translate(749,797.6) scale(1.0000,1)"><path d="M2.9,-2.2 L0.5,4.4"/></g><g transform="translate(759,797.6) scale(1.0545,1)"><circle cx="6.9" cy="-18.6" r="5.3"/><circle cx="6.9" cy="-6.6" r="6.1"/></g><g transform="translate(778.5,797.6) scale(0.9864,1)"><path d="M0.75,-17.6 C0.9,-21.5 3.8,-23.85 7.3,-23.85 C11,-23.85 13.95,-21 13.95,-17.2 C13.95,-14.5 12.6,-12.7 11,-11 L1.0,-0.75 H14.7"/></g><g transform="translate(799,797.6) scale(1.0545,1)"><circle cx="6.9" cy="-18.6" r="5.3"/><circle cx="6.9" cy="-6.6" r="6.1"/></g></g>
<path d="M183.1,848.48 A12.0,12.0 0 1 0 183.1,870.72 L183.1,865.85 A7.7,7.7 0 1 1 183.1,853.35 Z" fill="#1e1e1e"/>
<path d="M183.1,886.89 A11.8,11.8 0 1 0 183.1,908.71 L183.1,903.80 A7.5,7.5 0 1 1 183.1,891.80 Z" fill="#1e1e1e"/>
<path d="M183.1,926.09 A11.8,11.8 0 1 0 183.1,947.91 L183.1,943.00 A7.5,7.5 0 1 1 183.1,931.00 Z" fill="#1e1e1e"/>
<g fill="none" stroke="#242424" color="#242424" stroke-width="1.55" stroke-linecap="butt" stroke-linejoin="miter" class="ve"><g transform="translate(276.50,871.0) skewX(-10.0) scale(0.9514,1)"><path d="M8.7,-13.6 C8.0,-14.8 6.6,-15.3 5.0,-15.3 C2.8,-15.3 1.2,-14.0 1.2,-12.1 C1.2,-7.9 9.1,-9.0 9.1,-4.3 C9.1,-2.1 7.4,-0.7 5.0,-0.7 C3.0,-0.7 1.4,-1.6 0.6,-3.2"/></g><g transform="translate(286.91,871.0) skewX(-10.0) scale(1.0739,1)"><path d="M0.7,-8 H11.7 A5.5,7.3 0 1 0 10.3,-3.1"/></g><g transform="translate(303.80,871.0) skewX(-10.0) scale(0.6231,1)"><path d="M0.7,-16 V0 M0.7,-10.5 C1.4,-14.2 3.4,-15.5 6.4,-15.2"/></g><g transform="translate(311.40,871.0) skewX(-10.0) scale(1.0000,1)"><path d="M0.7,-16 V0"/><circle cx="0.7" cy="-20.6" r="1.35" fill="currentColor" stroke="none"/></g><g transform="translate(316.11,871.0) skewX(-10.0) scale(1.0739,1)"><path d="M0.7,-8 H11.7 A5.5,7.3 0 1 0 10.3,-3.1"/></g><g transform="translate(330.90,871.0) skewX(-10.0) scale(0.9514,1)"><path d="M8.7,-13.6 C8.0,-14.8 6.6,-15.3 5.0,-15.3 C2.8,-15.3 1.2,-14.0 1.2,-12.1 C1.2,-7.9 9.1,-9.0 9.1,-4.3 C9.1,-2.1 7.4,-0.7 5.0,-0.7 C3.0,-0.7 1.4,-1.6 0.6,-3.2"/></g><g transform="translate(351.74,871.0) skewX(-10.0) scale(0.7618,1)"><path d="M2.6,-19.7 V0 M0,-15.3 H5.6"/></g><g transform="translate(359.41,871.0) skewX(-10.0) scale(0.8524,1)"><path d="M0.7,-26.5 V0 M0.7,-9.3 C0.7,-13.5 3.0,-15.3 5.6,-15.3 C8.6,-15.3 10.4,-13.5 10.4,-9.3 V0"/></g><g transform="translate(371.34,871.0) skewX(-10.0) scale(1.0579,1)"><path d="M0.7,-8 H11.7 A5.5,7.3 0 1 0 10.3,-3.1"/></g><g transform="translate(387.64,871.0) skewX(-10.0) scale(0.6859,1)"><path d="M0.7,-16 V0 M0.7,-10.5 C1.4,-14.2 3.4,-15.5 6.4,-15.2"/></g><g transform="translate(396.05,871.0) skewX(-10.0) scale(0.9149,1)"><path d="M0.7,-16 V0 M0.7,-10 C0.7,-13.8 2.5,-15.3 4.9,-15.3 C7.5,-15.3 9.2,-13.8 9.2,-10 V0 M9.2,-10 C9.2,-13.8 11,-15.3 13.4,-15.3 C16,-15.3 17.7,-13.8 17.7,-10 V0"/></g><g transform="translate(415.61,871.0) skewX(-10.0) scale(1.0466,1)"><ellipse cx="6.8" cy="-8" rx="6.1" ry="7.3"/></g><g transform="translate(431.44,871.0) skewX(-10.0) scale(1.0162,1)"><path d="M0,-8 H4.8" stroke-width="1.6"/></g><g transform="translate(437.86,871.0) skewX(-10.0) scale(0.9883,1)"><path d="M0.7,-8 H11.7 A5.5,7.3 0 1 0 10.3,-3.1"/></g><g transform="translate(453.72,871.0) skewX(-10.0) scale(1.0000,1)"><path d="M0.7,-26.5 V0"/></g><g transform="translate(458.51,871.0) skewX(-10.0) scale(0.9360,1)"><path d="M0.7,-8 H11.7 A5.5,7.3 0 1 0 10.3,-3.1"/></g><g transform="translate(472.76,871.0) skewX(-10.0) scale(1.0218,1)"><path d="M10.9,-12.4 A5.6,7.3 0 1 0 10.9,-3.6"/></g><g transform="translate(487.64,871.0) skewX(-10.0) scale(0.6817,1)"><path d="M2.6,-19.7 V0 M0,-15.3 H5.6"/></g><g transform="translate(494.97,871.0) skewX(-10.0) scale(0.6859,1)"><path d="M0.7,-16 V0 M0.7,-10.5 C1.4,-14.2 3.4,-15.5 6.4,-15.2"/></g><g transform="translate(503.18,871.0) skewX(-10.0) scale(1.0000,1)"><path d="M0.7,-16 V0"/><circle cx="0.7" cy="-20.6" r="1.35" fill="currentColor" stroke="none"/></g><g transform="translate(506.98,871.0) skewX(-10.0) scale(1.0582,1)"><path d="M10.9,-12.4 A5.6,7.3 0 1 0 10.9,-3.6"/></g><g transform="translate(530.05,871.0) skewX(-10.0) scale(1.0137,1)"><ellipse cx="6.4" cy="-8" rx="5.7" ry="7.3"/><path d="M12.4,-16 V0"/></g><g transform="translate(545.78,871.0) skewX(-10.0) scale(1.0841,1)"><path d="M10.9,-12.4 A5.6,7.3 0 1 0 10.9,-3.6"/></g><g transform="translate(560.99,871.0) skewX(-10.0) scale(0.7333,1)"><path d="M2.6,-19.7 V0 M0,-15.3 H5.6"/></g><g transform="translate(567.78,871.0) skewX(-10.0) scale(0.6939,1)"><path d="M0.7,-16 V-6.2 A5.5,5.5 0 0 0 11.7,-6.2 M11.7,-16 V0"/></g><g transform="translate(580.16,871.0) skewX(-10.0) scale(0.9510,1)"><ellipse cx="6.4" cy="-8" rx="5.7" ry="7.3"/><path d="M12.4,-16 V0"/></g><g transform="translate(597.50,871.0) skewX(-10.0) scale(0.7867,1)"><path d="M2.6,-19.7 V0 M0,-15.3 H5.6"/></g><g transform="translate(604.05,871.0) skewX(-10.0) scale(1.0000,1)"><ellipse cx="6.8" cy="-8" rx="6.1" ry="7.3"/></g><g transform="translate(619.60,871.0) skewX(-10.0) scale(0.8385,1)"><path d="M0.7,-16 V0 M0.7,-10.5 C1.4,-14.2 3.4,-15.5 6.4,-15.2"/></g></g>
<g fill="none" stroke="#242424" color="#242424" stroke-width="1.55" stroke-linecap="butt" stroke-linejoin="miter" class="ve"><g transform="translate(322.50,909.2) skewX(-10.0) scale(0.9478,1)"><path d="M8.7,-13.6 C8.0,-14.8 6.6,-15.3 5.0,-15.3 C2.8,-15.3 1.2,-14.0 1.2,-12.1 C1.2,-7.9 9.1,-9.0 9.1,-4.3 C9.1,-2.1 7.4,-0.7 5.0,-0.7 C3.0,-0.7 1.4,-1.6 0.6,-3.2"/></g><g transform="translate(332.88,909.2) skewX(-10.0) scale(1.0703,1)"><path d="M0.7,-8 H11.7 A5.5,7.3 0 1 0 10.3,-3.1"/></g><g transform="translate(349.72,909.2) skewX(-10.0) scale(0.6199,1)"><path d="M0.7,-16 V0 M0.7,-10.5 C1.4,-14.2 3.4,-15.5 6.4,-15.2"/></g><g transform="translate(357.29,909.2) skewX(-10.0) scale(1.0000,1)"><path d="M0.7,-16 V0"/><circle cx="0.7" cy="-20.6" r="1.35" fill="currentColor" stroke="none"/></g><g transform="translate(361.99,909.2) skewX(-10.0) scale(1.0703,1)"><path d="M0.7,-8 H11.7 A5.5,7.3 0 1 0 10.3,-3.1"/></g><g transform="translate(376.73,909.2) skewX(-10.0) scale(0.9478,1)"><path d="M8.7,-13.6 C8.0,-14.8 6.6,-15.3 5.0,-15.3 C2.8,-15.3 1.2,-14.0 1.2,-12.1 C1.2,-7.9 9.1,-9.0 9.1,-4.3 C9.1,-2.1 7.4,-0.7 5.0,-0.7 C3.0,-0.7 1.4,-1.6 0.6,-3.2"/></g><g transform="translate(397.55,909.2) skewX(-10.0) scale(0.7600,1)"><path d="M2.6,-19.7 V0 M0,-15.3 H5.6"/></g><g transform="translate(405.20,909.2) skewX(-10.0) scale(0.8512,1)"><path d="M0.7,-26.5 V0 M0.7,-9.3 C0.7,-13.5 3.0,-15.3 5.6,-15.3 C8.6,-15.3 10.4,-13.5 10.4,-9.3 V0"/></g><g transform="translate(417.12,909.2) skewX(-10.0) scale(1.0565,1)"><path d="M0.7,-8 H11.7 A5.5,7.3 0 1 0 10.3,-3.1"/></g><g transform="translate(433.40,909.2) skewX(-10.0) scale(0.6846,1)"><path d="M0.7,-16 V0 M0.7,-10.5 C1.4,-14.2 3.4,-15.5 6.4,-15.2"/></g><g transform="translate(441.80,909.2) skewX(-10.0) scale(0.9137,1)"><path d="M0.7,-16 V0 M0.7,-10 C0.7,-13.8 2.5,-15.3 4.9,-15.3 C7.5,-15.3 9.2,-13.8 9.2,-10 V0 M9.2,-10 C9.2,-13.8 11,-15.3 13.4,-15.3 C16,-15.3 17.7,-13.8 17.7,-10 V0"/></g><g transform="translate(461.34,909.2) skewX(-10.0) scale(1.0453,1)"><ellipse cx="6.8" cy="-8" rx="6.1" ry="7.3"/></g><g transform="translate(477.15,909.2) skewX(-10.0) scale(1.0150,1)"><path d="M0,-8 H4.8" stroke-width="1.6"/></g><g transform="translate(483.56,909.2) skewX(-10.0) scale(0.9870,1)"><path d="M0.7,-8 H11.7 A5.5,7.3 0 1 0 10.3,-3.1"/></g><g transform="translate(499.40,909.2) skewX(-10.0) scale(1.0000,1)"><path d="M0.7,-26.5 V0"/></g><g transform="translate(504.18,909.2) skewX(-10.0) scale(0.9348,1)"><path d="M0.7,-8 H11.7 A5.5,7.3 0 1 0 10.3,-3.1"/></g><g transform="translate(518.41,909.2) skewX(-10.0) scale(1.0205,1)"><path d="M10.9,-12.4 A5.6,7.3 0 1 0 10.9,-3.6"/></g><g transform="translate(533.28,909.2) skewX(-10.0) scale(0.6800,1)"><path d="M2.6,-19.7 V0 M0,-15.3 H5.6"/></g><g transform="translate(540.60,909.2) skewX(-10.0) scale(0.6846,1)"><path d="M0.7,-16 V0 M0.7,-10.5 C1.4,-14.2 3.4,-15.5 6.4,-15.2"/></g><g transform="translate(548.80,909.2) skewX(-10.0) scale(1.0000,1)"><path d="M0.7,-16 V0"/><circle cx="0.7" cy="-20.6" r="1.35" fill="currentColor" stroke="none"/></g><g transform="translate(552.60,909.2) skewX(-10.0) scale(1.0568,1)"><path d="M10.9,-12.4 A5.6,7.3 0 1 0 10.9,-3.6"/></g><g transform="translate(576.25,909.2) skewX(-10.0) scale(1.0029,1)"><ellipse cx="6.4" cy="-8" rx="5.7" ry="7.3"/><path d="M12.4,-16 V0"/></g><g transform="translate(591.84,909.2) skewX(-10.0) scale(1.0728,1)"><path d="M10.9,-12.4 A5.6,7.3 0 1 0 10.9,-3.6"/></g><g transform="translate(606.93,909.2) skewX(-10.0) scale(0.7197,1)"><path d="M2.6,-19.7 V0 M0,-15.3 H5.6"/></g><g transform="translate(613.63,909.2) skewX(-10.0) scale(0.6859,1)"><path d="M0.7,-16 V-6.2 A5.5,5.5 0 0 0 11.7,-6.2 M11.7,-16 V0"/></g><g transform="translate(625.90,909.2) skewX(-10.0) scale(0.9407,1)"><ellipse cx="6.4" cy="-8" rx="5.7" ry="7.3"/><path d="M12.4,-16 V0"/></g><g transform="translate(643.09,909.2) skewX(-10.0) scale(0.7725,1)"><path d="M2.6,-19.7 V0 M0,-15.3 H5.6"/></g><g transform="translate(649.56,909.2) skewX(-10.0) scale(0.9901,1)"><ellipse cx="6.8" cy="-8" rx="6.1" ry="7.3"/></g><g transform="translate(664.98,909.2) skewX(-10.0) scale(0.8267,1)"><path d="M0.7,-16 V0 M0.7,-10.5 C1.4,-14.2 3.4,-15.5 6.4,-15.2"/></g></g>
<g fill="none" stroke="#242424" color="#242424" stroke-width="1.55" stroke-linecap="butt" stroke-linejoin="miter" class="ve"><g transform="translate(295.10,948.2) skewX(-10.0) scale(0.9370,1)"><path d="M8.7,-13.6 C8.0,-14.8 6.6,-15.3 5.0,-15.3 C2.8,-15.3 1.2,-14.0 1.2,-12.1 C1.2,-7.9 9.1,-9.0 9.1,-4.3 C9.1,-2.1 7.4,-0.7 5.0,-0.7 C3.0,-0.7 1.4,-1.6 0.6,-3.2"/></g><g transform="translate(305.38,948.2) skewX(-10.0) scale(1.0594,1)"><path d="M0.7,-8 H11.7 A5.5,7.3 0 1 0 10.3,-3.1"/></g><g transform="translate(322.07,948.2) skewX(-10.0) scale(0.6102,1)"><path d="M0.7,-16 V0 M0.7,-10.5 C1.4,-14.2 3.4,-15.5 6.4,-15.2"/></g><g transform="translate(329.58,948.2) skewX(-10.0) scale(1.0000,1)"><path d="M0.7,-16 V0"/><circle cx="0.7" cy="-20.6" r="1.35" fill="currentColor" stroke="none"/></g><g transform="translate(334.22,948.2) skewX(-10.0) scale(1.0594,1)"><path d="M0.7,-8 H11.7 A5.5,7.3 0 1 0 10.3,-3.1"/></g><g transform="translate(348.83,948.2) skewX(-10.0) scale(0.9370,1)"><path d="M8.7,-13.6 C8.0,-14.8 6.6,-15.3 5.0,-15.3 C2.8,-15.3 1.2,-14.0 1.2,-12.1 C1.2,-7.9 9.1,-9.0 9.1,-4.3 C9.1,-2.1 7.4,-0.7 5.0,-0.7 C3.0,-0.7 1.4,-1.6 0.6,-3.2"/></g><g transform="translate(368.51,948.2) skewX(-10.0) scale(0.7813,1)"><path d="M2.6,-19.7 V0 M0,-15.3 H5.6"/></g><g transform="translate(376.29,948.2) skewX(-10.0) scale(0.8663,1)"><path d="M0.7,-26.5 V0 M0.7,-9.3 C0.7,-13.5 3.0,-15.3 5.6,-15.3 C8.6,-15.3 10.4,-13.5 10.4,-9.3 V0"/></g><g transform="translate(388.39,948.2) skewX(-10.0) scale(1.0732,1)"><path d="M0.7,-8 H11.7 A5.5,7.3 0 1 0 10.3,-3.1"/></g><g transform="translate(404.89,948.2) skewX(-10.0) scale(0.7004,1)"><path d="M0.7,-16 V0 M0.7,-10.5 C1.4,-14.2 3.4,-15.5 6.4,-15.2"/></g><g transform="translate(413.41,948.2) skewX(-10.0) scale(0.9284,1)"><path d="M0.7,-16 V0 M0.7,-10 C0.7,-13.8 2.5,-15.3 4.9,-15.3 C7.5,-15.3 9.2,-13.8 9.2,-10 V0 M9.2,-10 C9.2,-13.8 11,-15.3 13.4,-15.3 C16,-15.3 17.7,-13.8 17.7,-10 V0"/></g><g transform="translate(433.24,948.2) skewX(-10.0) scale(1.0610,1)"><ellipse cx="6.8" cy="-8" rx="6.1" ry="7.3"/></g><g transform="translate(449.28,948.2) skewX(-10.0) scale(1.0299,1)"><path d="M0,-8 H4.8" stroke-width="1.6"/></g><g transform="translate(455.77,948.2) skewX(-10.0) scale(1.0026,1)"><path d="M0.7,-8 H11.7 A5.5,7.3 0 1 0 10.3,-3.1"/></g><g transform="translate(471.83,948.2) skewX(-10.0) scale(1.0000,1)"><path d="M0.7,-26.5 V0"/></g><g transform="translate(476.70,948.2) skewX(-10.0) scale(0.9497,1)"><path d="M0.7,-8 H11.7 A5.5,7.3 0 1 0 10.3,-3.1"/></g><g transform="translate(491.13,948.2) skewX(-10.0) scale(1.0368,1)"><path d="M10.9,-12.4 A5.6,7.3 0 1 0 10.9,-3.6"/></g><g transform="translate(506.19,948.2) skewX(-10.0) scale(0.7002,1)"><path d="M2.6,-19.7 V0 M0,-15.3 H5.6"/></g><g transform="translate(513.62,948.2) skewX(-10.0) scale(0.7004,1)"><path d="M0.7,-16 V0 M0.7,-10.5 C1.4,-14.2 3.4,-15.5 6.4,-15.2"/></g><g transform="translate(521.94,948.2) skewX(-10.0) scale(1.0000,1)"><path d="M0.7,-16 V0"/><circle cx="0.7" cy="-20.6" r="1.35" fill="currentColor" stroke="none"/></g><g transform="translate(525.80,948.2) skewX(-10.0) scale(1.0737,1)"><path d="M10.9,-12.4 A5.6,7.3 0 1 0 10.9,-3.6"/></g><g transform="translate(548.25,948.2) skewX(-10.0) scale(0.9945,1)"><ellipse cx="6.4" cy="-8" rx="5.7" ry="7.3"/><path d="M12.4,-16 V0"/></g><g transform="translate(563.73,948.2) skewX(-10.0) scale(1.0640,1)"><path d="M10.9,-12.4 A5.6,7.3 0 1 0 10.9,-3.6"/></g><g transform="translate(578.72,948.2) skewX(-10.0) scale(0.7090,1)"><path d="M2.6,-19.7 V0 M0,-15.3 H5.6"/></g><g transform="translate(585.36,948.2) skewX(-10.0) scale(0.6797,1)"><path d="M0.7,-16 V-6.2 A5.5,5.5 0 0 0 11.7,-6.2 M11.7,-16 V0"/></g><g transform="translate(597.54,948.2) skewX(-10.0) scale(0.9328,1)"><ellipse cx="6.4" cy="-8" rx="5.7" ry="7.3"/><path d="M12.4,-16 V0"/></g><g transform="translate(614.62,948.2) skewX(-10.0) scale(0.7615,1)"><path d="M2.6,-19.7 V0 M0,-15.3 H5.6"/></g><g transform="translate(621.03,948.2) skewX(-10.0) scale(0.9825,1)"><ellipse cx="6.8" cy="-8" rx="6.1" ry="7.3"/></g><g transform="translate(636.34,948.2) skewX(-10.0) scale(0.8175,1)"><path d="M0.7,-16 V0 M0.7,-10.5 C1.4,-14.2 3.4,-15.5 6.4,-15.2"/></g></g>
<polygon points="189.3,886 192.5,886.4 188.8,894.8 186,894.2" fill="#1e1e1e"/>
<polygon points="189.4,925.3 192.8,925.7 188.9,933.7 186,933.2" fill="#1e1e1e"/>
<polygon points="197.4,925.3 200.8,925.7 196.9,933.7 194,933.2" fill="#1e1e1e"/>
<g fill="none" stroke="#242424" stroke-width="1.5" stroke-linecap="butt" stroke-linejoin="miter" class="ve"><g transform="translate(194.33,871.0) skewX(-10.0) scale(1.0355,0.9756)"><path d="M9.2,-24.4 L2.4,-13.4"/><circle cx="7.65" cy="-8.1" r="7.3"/></g><g transform="translate(212.12,871.0) skewX(-10.0) scale(0.9097,0.9756)"><path d="M15.9,-23.85 H6.9 L4.6,-14.6 A7.25,7.25 0 1 1 1.0,-4.3"/></g><g transform="translate(231.51,871.0) skewX(-10.0) scale(0.9581,0.9756)"><path d="M9.2,-24.4 L2.4,-13.4"/><circle cx="7.65" cy="-8.1" r="7.3"/></g><g transform="translate(250.72,871.0) skewX(-10.0) scale(0.8750,0.9756)"><path d="M0.9,-19.3 C1.8,-22.2 4.2,-23.85 7,-23.85 C10.3,-23.85 12.6,-21.3 12.6,-18.2 C12.6,-15 10.3,-12.6 6.6,-12.6 C10.5,-12.6 13.55,-9.7 13.55,-6.3 C13.55,-2.8 10.7,-0.75 7.2,-0.75 C4.2,-0.75 1.6,-2.4 0.6,-5.4"/></g></g>
<g fill="none" stroke="#242424" stroke-width="1.5" stroke-linecap="butt" stroke-linejoin="miter" class="ve"><g transform="translate(203.95,909.2) skewX(-10.0) scale(1.0871,0.9756)"><path d="M9.2,-24.4 L2.4,-13.4"/><circle cx="7.65" cy="-8.1" r="7.3"/></g><g transform="translate(221.52,909.2) skewX(-10.0) scale(0.9097,0.9756)"><path d="M15.9,-23.85 H6.9 L4.6,-14.6 A7.25,7.25 0 1 1 1.0,-4.3"/></g><g transform="translate(240.51,909.2) skewX(-10.0) scale(0.9581,0.9756)"><path d="M9.2,-24.4 L2.4,-13.4"/><circle cx="7.65" cy="-8.1" r="7.3"/></g><g transform="translate(260.55,909.2) skewX(-10.0) scale(0.8967,0.9756)"><path d="M0.75,-17.6 C0.9,-21.5 3.8,-23.85 7.3,-23.85 C11,-23.85 13.95,-21 13.95,-17.2 C13.95,-14.5 12.6,-12.7 11,-11 L1.0,-0.75 H14.7"/></g><g transform="translate(276.23,909.2) skewX(-10.0) scale(1.0061,0.9756)"><path d="M16.0,-25.4 L0.5,3.6"/></g><g transform="translate(296.20,909.2) skewX(-10.0) scale(0.9421,0.9756)"><path d="M13.1,-24.4 L0.75,-5.4 H16.6 M13.1,-24.4 V0"/></g></g>
<g fill="none" stroke="#242424" stroke-width="1.5" stroke-linecap="butt" stroke-linejoin="miter" class="ve"><g transform="translate(212.24,948.3) skewX(-10.0) scale(1.0742,0.9756)"><path d="M9.2,-24.4 L2.4,-13.4"/><circle cx="7.65" cy="-8.1" r="7.3"/></g><g transform="translate(229.81,948.3) skewX(-10.0) scale(0.9290,0.9756)"><path d="M15.9,-23.85 H6.9 L4.6,-14.6 A7.25,7.25 0 1 1 1.0,-4.3"/></g><g transform="translate(250.02,948.3) skewX(-10.0) scale(0.9645,0.9756)"><path d="M9.2,-24.4 L2.4,-13.4"/><circle cx="7.65" cy="-8.1" r="7.3"/></g><g transform="translate(270.64,948.3) skewX(-10.0) scale(0.9833,0.9756)"><path d="M0.3,-23.4 L4.85,-24.0 V0"/></g></g>
</g>
</svg>
<div class="txt" aria-label="product data">
<span style="left:600px;top:380px">A</span><span style="left:390px;top:490px">B</span><span style="left:710px;top:260px">C</span><span style="left:670px;top:280px">C&#8242;</span><span style="left:630px;top:300px">C&#8243;</span>
<table style="left:166px;top:625px">
<tr><th>Code</th><th>A</th><th>B</th><th>C</th><th>C&#8242;</th><th>C&#8243;</th><th>Weight (kg)</th></tr>
<tr><td>676040</td><td>1/2&#8243;</td><td>113</td><td>95</td><td>89</td><td>81</td><td>0,738</td></tr>
<tr><td>676050</td><td>3/4&#8243;</td><td>113</td><td>95</td><td>89</td><td>81</td><td>0,791</td></tr>
<tr><td>676060</td><td>1&#8243;</td><td>122</td><td>95</td><td>89</td><td>81</td><td>0,828</td></tr>
</table>
<p style="left:166px;top:845px">C 6563 series thermo-electric actuator</p>
<p style="left:166px;top:883px">C&#8242; 6562/4 series thermo-electric actuator</p>
<p style="left:166px;top:921px">C&#8243; 6561 series thermo-electric actuator</p>
</div>
</body></html>
